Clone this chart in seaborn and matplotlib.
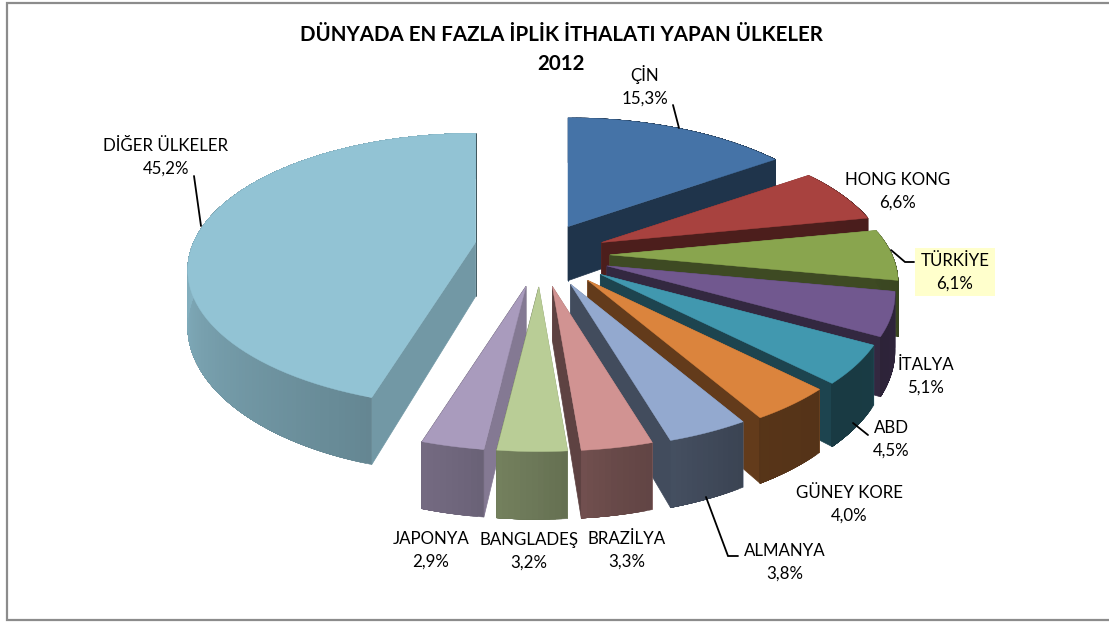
import numpy as np
import matplotlib
matplotlib.use("Agg")
import matplotlib.pyplot as plt
from matplotlib.patches import Rectangle
import seaborn as sns

# ---- data ----
countries = ["ÇİN", "HONG KONG", "TÜRKİYE", "İTALYA", "ABD", "GÜNEY KORE",
             "ALMANYA", "BRAZİLYA", "BANGLADEŞ", "JAPONYA", "DİĞER ÜLKELER"]
shares = [15.3, 6.6, 6.1, 5.1, 4.5, 4.0, 3.8, 3.3, 3.2, 2.9, 45.2]
title_lines = ["DÜNYADA EN FAZLA İPLİK İTHALATI YAPAN ÜLKELER", "2012"]

# ---- styling ----
slice_colors = ["#4573A7", "#A8423F", "#89A54E", "#71588F", "#4198AF", "#DB843D",
                "#93A9CF", "#D19392", "#B9CD96", "#A99BBD", "#92C3D4"]
label_centres = [(645, 86), (898, 191), (955, 272), (926, 376), (891, 439), (849, 504),
                 (785, 562), (627, 550), (529, 551), (431, 550), (166, 157)]
leaders = [[(673, 105), (679, 128)],
           [(891, 250), (905, 262), (914, 262)],
           [(853, 423), (868, 435)],
           [(706, 497), (728, 556), (738, 556)],
           [(194, 176), (201, 226)]]
slice_nudge_x = [-3, 0, 3, 4, 7, 7, 4, 0, 0, 0, 2]
slice_nudge_y = [0, 0, 0, 0, 0, 0, 0, 0, 0, 0, -8]

sns.set_theme(style="white")
plt.rcParams["font.family"] = ["Lato", "DejaVu Sans"]
palette = sns.color_palette(slice_colors)

# projection of the tilted, exploded disc
CX, CY = 540, 255
EX, EY = 67, 32
A, B = 282, 131
K = 0.204
H = 54
wall_angles = [60, 100, 130, 150, 170, 180, 192, 200, 240, 270, 300]
wall_shade = [.45, .42, .38, .40, .50, .58, .66, .70, .82, .92, .95]
START_SHADE, END_SHADE = .78, .45


def project(tx, ty, th, r=1.0, z=0.0):
    th = np.asarray(th, dtype=float)
    s = 1 / (1 + K * r * np.cos(th))
    return tx + r * A * np.sin(th) * s, ty - r * B * np.cos(th) * s + z * H * s


def shaded(color, f):
    return tuple(min(1, c * f) for c in color)


fig, ax = plt.subplots(figsize=(11.09, 6.22), dpi=100)
fig.subplots_adjust(0, 0, 1, 1)
ax.set_xlim(0, 1109)
ax.set_ylim(622, 0)
ax.axis("off")
ax.add_patch(Rectangle((7, 3), 1110, 617, fc="white", ec="#8C8C8C", lw=1.6, zorder=0))

fractions = np.array(shares) / sum(shares)
ends = np.cumsum(fractions) * 2 * np.pi
starts = ends - fractions * 2 * np.pi
mids = (starts + ends) / 2
order = np.argsort(-np.cos(mids))

z = 1
for i in order:
    t0, t1, m = starts[i], ends[i], mids[i]
    tx = CX + EX * np.sin(m) + slice_nudge_x[i]
    ty = CY - EY * np.cos(m) + slice_nudge_y[i]
    col = palette[i]
    # radial faces, hidden one first
    faces = [(t0, START_SHADE), (t1, END_SHADE)]
    if m > np.pi:
        faces = faces[::-1]
    for th, f in faces:
        ptx, pty = project(tx, ty, th)
        xb, yb = project(tx, ty, th, z=1)
        ax.fill([tx, ptx, xb, tx], [ty, pty, yb, ty + H],
                color=shaded(col, f), lw=.5, zorder=z)
    # outer wall painted as overlapping strips, so no seams show
    n = max(8, int((t1 - t0) * 60))
    grid = np.linspace(t0, t1, n + 1)
    for a in grid[:-1]:
        th = np.linspace(a, t1, 60)
        xa, ya = project(tx, ty, th)
        xc, yc = project(tx, ty, th[::-1], z=1)
        f = np.interp(np.degrees(a + (t1 - t0) / n / 2), wall_angles, wall_shade)
        ax.fill(np.r_[xa, xc], np.r_[ya, yc], color=shaded(col, f), lw=.3, zorder=z)
    # top face
    grid = np.linspace(t0, t1, 80)
    xa, ya = project(tx, ty, grid)
    ax.fill(np.r_[tx, xa], np.r_[ty, ya], color=col, lw=.3, zorder=z + .5)
    z += 1

# leaders and labels
for pts in leaders:
    ax.plot(*zip(*pts), color="black", lw=1.3, zorder=50, solid_joinstyle="miter")
for name, v, (x, y) in zip(countries, shares, label_centres):
    txt = f"{name}\n{v:.1f}".replace(".", ",") + "%"
    box = None
    if name == "TÜRKİYE":
        box = dict(boxstyle="square,pad=0.3", fc="#FFFFCC", ec="none")
    ax.text(x, y, txt, ha="center", va="center", fontsize=12.2, color="black",
            linespacing=1.5, bbox=box, zorder=60)

ax.text(561, 35, title_lines[0], ha="center", va="center", fontsize=14.8,
        fontweight="bold", color="black", zorder=60)
ax.text(561, 64, title_lines[1], ha="center", va="center", fontsize=14.8,
        fontweight="bold", color="black", zorder=60)

fig.savefig("out.png", dpi=100)
